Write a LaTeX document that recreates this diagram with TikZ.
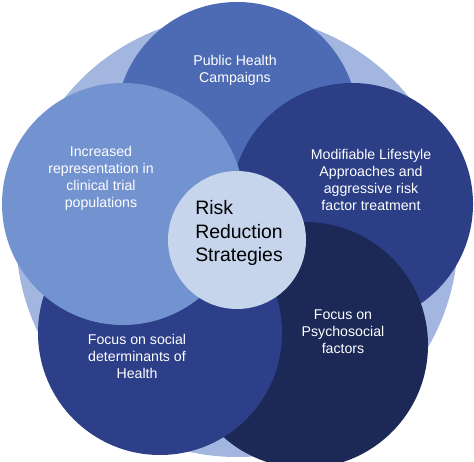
\documentclass[tikz,border=0pt]{standalone}
\usepackage{fontspec}
\setmainfont{Liberation Sans}
\usepackage{tikz}
\usetikzlibrary{positioning}

\definecolor{backblue}{HTML}{A2B6DF}
\definecolor{topblue}{HTML}{4C6BB4}
\definecolor{leftblue}{HTML}{7292D0}
\definecolor{rightblue}{HTML}{2B3E86}
\definecolor{lowleftblue}{HTML}{2C3F88}
\definecolor{lowrightblue}{HTML}{1C2957}
\definecolor{hubblue}{HTML}{C6D4EC}

\begin{document}
\begin{tikzpicture} [x=1bp,y=-1bp,
  disc/.style={circle,inner sep=0,minimum size=242bp},
  lbl/.style={text=white,align=center,inner sep=0,font=\fontsize{14.2}{17}\selectfont}]
\useasboundingbox (0,0) rectangle (474,462);

\node[disc,fill=backblue,minimum size=442bp] (back) at (237,236) {};
\node[disc,fill=topblue] (top) at (237,123) {};
\node[disc,fill=rightblue] (right) at (352,204) {};
\node[disc,fill=lowrightblue,minimum size=246bp] (lowright) at (305,345) {};
\node[disc,fill=lowleftblue,minimum size=244bp] (lowleft) at (160,333) {};
\node[disc,fill=leftblue] (left) at (123,204) {};
\node[disc,fill=hubblue,minimum size=138bp] (hub) at (237,240) {};

\node[lbl] (toptext) at (235,70.5) {Public Health\\Campaigns};
\node[lbl] (lefttext) at (101,178.5) {Increased\\representation in\\clinical trial\\populations};
\node[lbl] (righttext) at (371,180) {Modifiable Lifestyle\\Approaches and\\aggressive risk\\factor treatment};
\node[lbl] (lowlefttext) at (137,356.5) {Focus on social\\determinants of\\Health};
\node[lbl] (lowrighttext) at (343,331.5) {Focus on\\Psychosocial\\factors};
\node[align=left,inner sep=0,font=\fontsize{19.5}{24}\selectfont] (hubtext) at (239,233) {Risk\\Reduction\\Strategies};
\end{tikzpicture}
\end{document}
